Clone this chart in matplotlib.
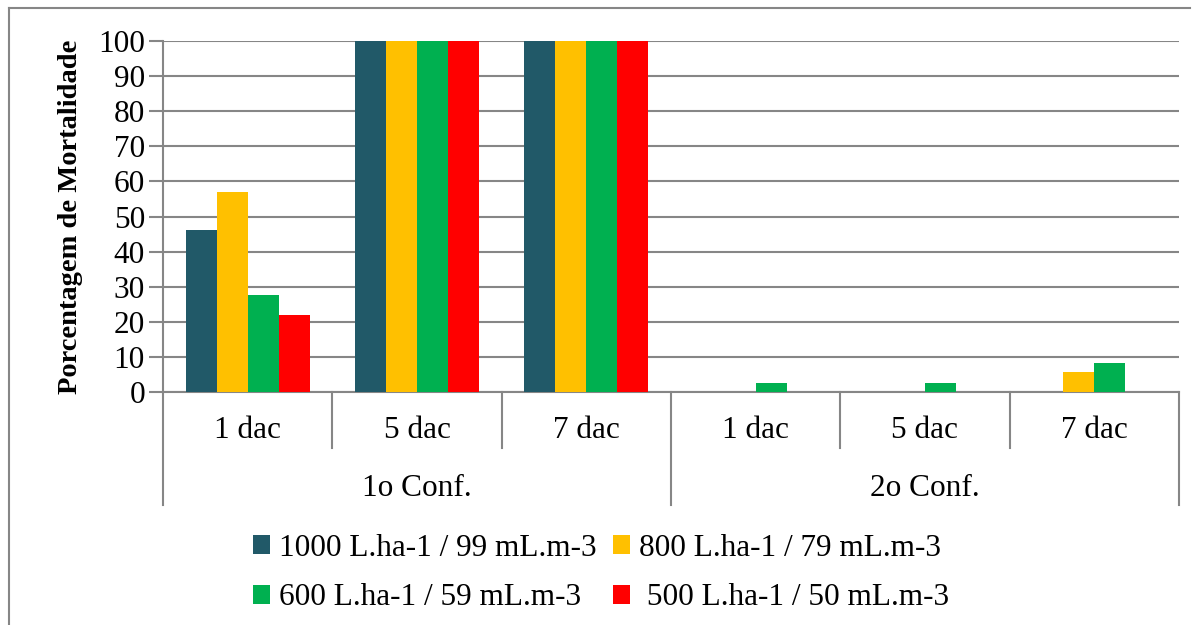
import numpy as np
import matplotlib.pyplot as plt
import matplotlib.transforms as mtransforms
from matplotlib.lines import Line2D

plt.rcParams['font.family'] = ['Liberation Serif', 'DejaVu Serif']

# dados do grafico
dias = ["1 dac", "5 dac", "7 dac", "1 dac", "5 dac", "7 dac"]
grupos = ["1o Conf.", "2o Conf."]
series = ["1000 L.ha-1 / 99 mL.m-3", "800 L.ha-1 / 79 mL.m-3",
          "600 L.ha-1 / 59 mL.m-3", " 500 L.ha-1 / 50 mL.m-3"]
v1000 = [46.2, 100, 100, 0, 0, 0]
v800 = [57, 100, 100, 0, 0, 5.8]
v600 = [27.5, 100, 100, 2.5, 2.5, 8.2]
v500 = [22, 100, 100, 0, 0, 0]
cores = ["#215968", "#FFC000", "#00B050", "#FF0000"]
cinza = "#868686"

W, H = 1196, 625
fs = 22.5
fig = plt.figure(figsize=(W / 100, H / 100), dpi=100)
ax = fig.add_axes([163 / W, 1 - 392 / H, (1179 - 163) / W, (392 - 41) / H])

x = np.arange(len(dias)) + 0.5
larg = 0.183
valores = [v1000, v800, v600, v500]
barras = []
for k, (vals, cor, nome) in enumerate(zip(valores, cores, series)):
    barras.append(ax.bar(x + (k - 1.5) * larg, vals, larg, color=cor, label=nome, zorder=3))

ax.set_xlim(0, len(dias))
ax.set_ylim(0, 100)
ax.set_yticks(np.arange(0, 101, 10))
ax.yaxis.grid(True, color=cinza, linewidth=1.5, zorder=0)
ax.tick_params(axis='y', length=10, width=1.5, color=cinza, labelsize=fs, pad=3)
ax.tick_params(axis='x', bottom=False, labelbottom=False)
for s in ["top", "right"]:
    ax.spines[s].set_visible(False)
for s in ["left", "bottom"]:
    ax.spines[s].set_color(cinza)
    ax.spines[s].set_linewidth(1.5)
ax.set_ylabel("Porcentagem de Mortalidade", fontsize=20.5, fontweight='bold', labelpad=11)

# eixo de categorias em dois niveis
trans = mtransforms.blended_transform_factory(ax.transData, ax.transAxes)
alt = 392 - 41
for i in range(len(dias) + 1):
    fim = -(505 - 392) / alt if i % 3 == 0 else -(448 - 392) / alt
    ax.plot([i, i], [0, fim], color=cinza, linewidth=1.5, transform=trans, clip_on=False)
for i, d in enumerate(dias):
    ax.text(x[i], -(430 - 392) / alt, d, transform=trans, ha='center', va='center', fontsize=fs)
for j, g in enumerate(grupos):
    ax.text(3 * j + 1.5, -(488 - 392) / alt, g, transform=trans, ha='center', va='center', fontsize=fs)

# legenda em duas linhas (preenchimento por coluna)
ordem = [0, 2, 1, 3]
fig.legend([barras[i] for i in ordem], [series[i] for i in ordem],
           loc='center', bbox_to_anchor=(601 / W, 1 - 573 / H), ncol=2, frameon=False,
           fontsize=fs, handlelength=0.55, handleheight=0.55, handletextpad=0.3,
           columnspacing=0.5, labelspacing=0.65)

# moldura externa
fig.add_artist(Line2D([9 / W, 9 / W], [0, 1 - 8 / H], color=cinza, linewidth=1.5))
fig.add_artist(Line2D([9 / W, 1190 / W], [1 - 8 / H, 1 - 8 / H], color=cinza, linewidth=1.5))

fig.savefig("out.png", dpi=100)
